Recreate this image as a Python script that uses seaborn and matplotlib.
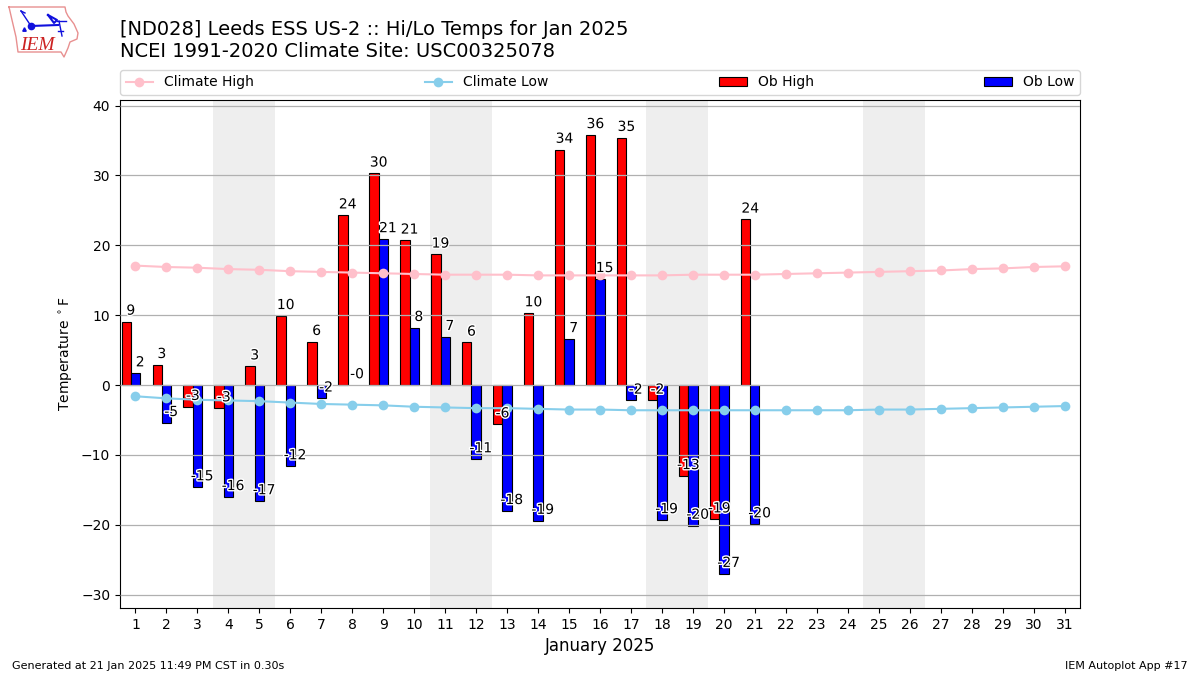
import matplotlib
matplotlib.use("Agg")
import matplotlib.pyplot as plt
import matplotlib.patheffects as pe
import seaborn as sns
import pandas as pd

days = list(range(1, 32))
obDays = list(range(1, 22))
obHigh = [9.1, 2.9, -3.1, -3.3, 2.7, 9.9, 6.2, 24.3, 30.3, 20.7, 18.7, 6.1, -5.6, 10.3, 33.7, 35.8, 35.4, -2.2, -13.0, -19.2, 23.7]
obLow = [1.7, -5.4, -14.6, -16.0, -16.6, -11.6, -1.9, -0.0, 20.9, 8.2, 6.9, -10.6, -18.0, -19.4, 6.6, 15.2, -2.2, -19.3, -20.1, -27.0, -19.9]
climateHigh = [17.1, 16.9, 16.8, 16.6, 16.5, 16.3, 16.2, 16.1, 16.0, 15.9, 15.8, 15.8, 15.8, 15.7, 15.7, 15.7, 15.7, 15.7, 15.8, 15.8, 15.8, 15.9, 16.0, 16.1, 16.2, 16.3, 16.4, 16.6, 16.7, 16.9, 17.0]
climateLow = [-1.6, -1.9, -2.1, -2.2, -2.3, -2.5, -2.7, -2.8, -2.9, -3.1, -3.2, -3.3, -3.3, -3.4, -3.5, -3.5, -3.6, -3.6, -3.6, -3.6, -3.6, -3.6, -3.6, -3.6, -3.5, -3.5, -3.4, -3.3, -3.2, -3.1, -3.0]
weekends = [(4, 5), (11, 12), (18, 19), (25, 26)]

fig = plt.figure(figsize=(12, 6.75), dpi=100)
ax = fig.add_axes([120 / 1200, 1 - 608 / 675, 960 / 1200, 508 / 675])

for start, end in weekends:
    ax.axvspan(start - 0.5, end + 0.5, color="#eeeeee", zorder=0, lw=0)

highFrame = pd.DataFrame({"x": [d - 0.3 for d in obDays], "y": obHigh})
lowFrame = pd.DataFrame({"x": obDays, "y": obLow})
# the zero day has no visible bar in the original, only its label
lowFrame = lowFrame[lowFrame["y"] != 0]
sns.barplot(data=highFrame, x="x", y="y", native_scale=True, width=0.3, color="red", saturation=1,
            edgecolor="black", linewidth=0.8, errorbar=None, label="Ob High", ax=ax, zorder=2)
sns.barplot(data=lowFrame, x="x", y="y", native_scale=True, width=0.3, color="blue", saturation=1,
            edgecolor="black", linewidth=0.8, errorbar=None, label="Ob Low", ax=ax, zorder=2)

climateFrame = pd.DataFrame({"x": days, "high": climateHigh, "low": climateLow})
sns.lineplot(data=climateFrame, x="x", y="high", color="pink", marker="o", markersize=7,
             markeredgewidth=0, label="Climate High", ax=ax, zorder=3)
sns.lineplot(data=climateFrame, x="x", y="low", color="skyblue", marker="o", markersize=7,
             markeredgewidth=0, label="Climate Low", ax=ax, zorder=3)

stroke = [pe.withStroke(linewidth=2, foreground="white")]
for day, value in zip(obDays, obHigh):
    ax.text(day - 0.15, value + 0.55, f"{value:.0f}", ha="center", va="bottom", fontsize=10,
            path_effects=stroke, zorder=4)
for day, value in zip(obDays, obLow):
    ax.text(day + 0.15, value + 0.55, f"{value:.0f}", ha="center", va="bottom", fontsize=10,
            path_effects=stroke, zorder=4)

ax.set_xlim(0.5, 31.5)
ax.set_ylim(-31.9, 40.8)
ax.set_xticks(days)
ax.set_xticklabels([str(d) for d in days])
ax.set_yticks(range(-30, 41, 10))
ax.set_xlabel("January 2025", fontsize=12)
ax.set_ylabel("Temperature $^\\circ$F")
ax.set_axisbelow(False)
ax.yaxis.grid(True, color="#b0b0b0", lw=0.9, zorder=2.5)
for gridline in ax.get_ygridlines():
    gridline.set_zorder(2.5)

handles, labels = ax.get_legend_handles_labels()
lookup = dict(zip(labels, handles))
order = ["Climate High", "Climate Low", "Ob High", "Ob Low"]
ax.legend([lookup[k] for k in order], order, ncol=4, mode="expand", loc="lower left",
          bbox_to_anchor=(0, 1.0098, 1, 0.05), borderaxespad=0, fontsize=10)

fig.text(120 / 1200, 1 - 61 / 675, "[ND028] Leeds ESS US-2 :: Hi/Lo Temps for Jan 2025\nNCEI 1991-2020 Climate Site: USC00325078",
         fontsize=14, ha="left", va="bottom")
fig.text(12 / 1200, 1 - 671 / 675, "Generated at 21 Jan 2025 11:49 PM CST in 0.30s", fontsize=8, ha="left", va="bottom")
fig.text(1188 / 1200, 1 - 671 / 675, "IEM Autoplot App #17", fontsize=8, ha="right", va="bottom")

# rough copy of the logo, drawn in pixel coordinates
logo = fig.add_axes([0, 0, 1, 1], facecolor="none")
logo.set_xlim(0, 1200)
logo.set_ylim(675, 0)
logo.axis("off")
logo.plot([9, 65, 66, 68, 74, 78, 77, 70, 68, 64, 61, 18, 16, 12, 9],
          [7, 7, 12, 16, 24, 33, 39, 42, 48, 57, 52, 52, 37, 20, 7], color="#e89090", lw=1)
logo.plot([31, 58], [26, 25], color="#1010dd", lw=1.5)
logo.plot([31, 21], [26, 11], color="#1010dd", lw=1)
logo.plot([21, 25], [11, 13], color="#1010dd", lw=1)
logo.plot([31], [26], "o", color="#1010dd", ms=4.5)
logo.plot([24], [29], "^", color="#1010dd", ms=2.5)
logo.plot([48, 57, 54, 48], [15, 20, 23, 15], color="#1010dd", lw=1.5)
logo.plot([57, 66], [21, 21], color="#1010dd", lw=1)
logo.plot([59, 62], [21, 36], color="#1010dd", lw=1)
logo.plot([58, 63], [31, 31], color="#1010dd", lw=1)
logo.text(37.5, 45, "IEM", color="#cc2222", fontsize=14, family="Liberation Serif", style="italic",
          ha="center", va="center")

fig.savefig("out.png", dpi=100)
plt.close(fig)
